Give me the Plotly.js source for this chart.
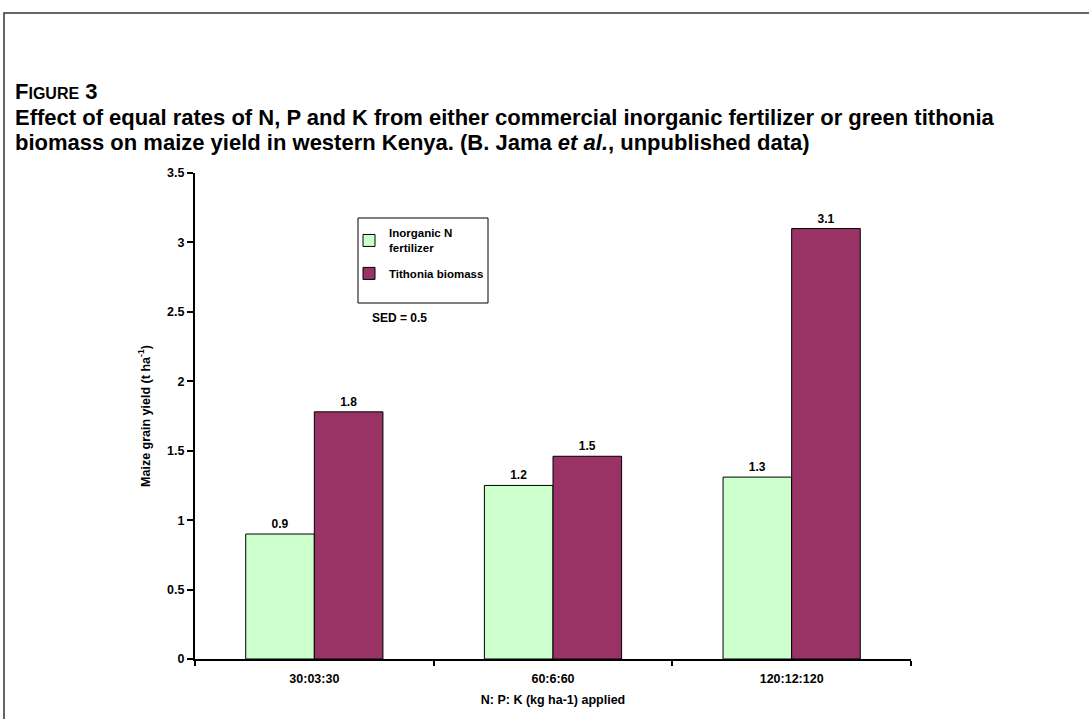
<!DOCTYPE html>
<html>
<head>
<meta charset="utf-8">
<script src="https://cdn.plot.ly/plotly-3.0.1.min.js"></script>
<style>
  html, body { margin: 0; padding: 0; background: #fff; }
  #chart { width: 1089px; height: 719px; }
</style>
</head>
<body>
<div id="chart"></div>
<script>
// ---- data ----
const categories = ['30:03:30', '60:6:60', '120:12:120'];
const inorganicValues = [0.9, 1.25, 1.31];
const tithoniaValues = [1.78, 1.46, 3.1];
const inorganicLabels = ['0.9', '1.2', '1.3'];
const tithoniaLabels = ['1.8', '1.5', '3.1'];
const seriesNames = ['Inorganic N<br>fertilizer', 'Tithonia biomass'];
const yTickValues = [0, 0.5, 1, 1.5, 2, 2.5, 3, 3.5];
const yTickLabels = ['0', '0.5', '1', '1.5', '2', '2.5', '3', '3.5'];
const titleLines = [
  'F<span style="font-size:16px">IGURE</span> 3',
  'Effect of equal rates of N, P and K from either commercial inorganic fertilizer or green tithonia',
  'biomass on maize yield in western Kenya. (B. Jama <i>et al.</i>, unpublished data)'
];

const FONT = 'Liberation Sans, Arial, Helvetica, sans-serif';
const bold = (size) => ({family: FONT, size: size, color: '#000', weight: 'bold'});

const traces = [
  {
    type: 'bar', name: seriesNames[0], x: categories, y: inorganicValues,
    text: inorganicLabels, textposition: 'outside', cliponaxis: false,
    textfont: bold(12),
    marker: {color: '#CCFFCC', line: {color: '#000', width: 1}},
    legendgroup: 'a', hoverinfo: 'x+y'
  },
  {
    type: 'bar', name: seriesNames[1], x: categories, y: tithoniaValues,
    text: tithoniaLabels, textposition: 'outside', cliponaxis: false,
    textfont: bold(12),
    marker: {color: '#993366', line: {color: '#000', width: 1}},
    legendgroup: 'b', hoverinfo: 'x+y'
  }
];

const L = 195, R = 178, T = 173, B = 60;
const W = 1089 - L - R, H = 719 - T - B;
const px = x => (x - L) / W;
const py = y => (719 - B - y) / H;

const titleY = [91, 117, 143];
const titleSizes = [22, 22, 22];

const layout = {
  width: 1089, height: 719,
  margin: {l: L, r: R, t: T, b: B},
  paper_bgcolor: '#fff', plot_bgcolor: '#fff',
  font: {family: FONT, color: '#000'},
  barmode: 'group', bargap: 0.425, bargroupgap: 0,
  showlegend: true,
  legend: {
    x: px(349), y: py(219), xanchor: 'left', yanchor: 'top',
    bgcolor: 'rgba(0,0,0,0)', borderwidth: 0,
    font: bold(11.5),
    tracegroupgap: 7, itemwidth: 30
  },
  xaxis: {
    type: 'category', tickson: 'boundaries',
    showline: true, linecolor: '#000', linewidth: 2,
    ticks: 'outside', ticklen: 5, tickwidth: 2, tickcolor: '#000',
    showgrid: false, zeroline: false,
    ticklabelstandoff: 7,
    tickfont: bold(12.5),
    title: {text: 'N: P: K (kg ha-1) applied', standoff: 10, font: bold(12.5)},
    fixedrange: true
  },
  yaxis: {
    range: [0, 3.5], tickvals: yTickValues, ticktext: yTickLabels,
    showline: true, linecolor: '#000', linewidth: 2,
    ticks: 'outside', ticklen: 6, tickwidth: 2, tickcolor: '#000',
    showgrid: false, zeroline: false,
    tickfont: bold(12.5),
    title: {text: 'Maize grain yield (t ha<sup>-1</sup>)', standoff: 14, font: bold(12.5)},
    fixedrange: true
  },
  shapes: [
    {type: 'rect', xref: 'paper', yref: 'paper',
     x0: px(4), x1: px(1200), y0: py(800), y1: py(13),
     line: {color: '#333', width: 1.5}, fillcolor: 'rgba(0,0,0,0)', layer: 'below'},
    {type: 'rect', xref: 'paper', yref: 'paper',
     x0: px(358), x1: px(488), y0: py(303), y1: py(218),
     line: {color: '#000', width: 1}, fillcolor: 'rgba(0,0,0,0)'}
  ],
  annotations: titleLines.map((t, i) => ({
    xref: 'paper', yref: 'paper', x: px(13), y: py(titleY[i]),
    xanchor: 'left', yanchor: 'middle', showarrow: false, align: 'left',
    text: t, font: bold(titleSizes[i])
  })).concat([
    {xref: 'paper', yref: 'paper', x: px(370), y: py(318), xanchor: 'left', yanchor: 'middle',
     showarrow: false, text: 'SED = 0.5', font: bold(12)}
  ])
};

Plotly.newPlot('chart', traces, layout, {displayModeBar: false, staticPlot: true});
</script>
</body>
</html>
